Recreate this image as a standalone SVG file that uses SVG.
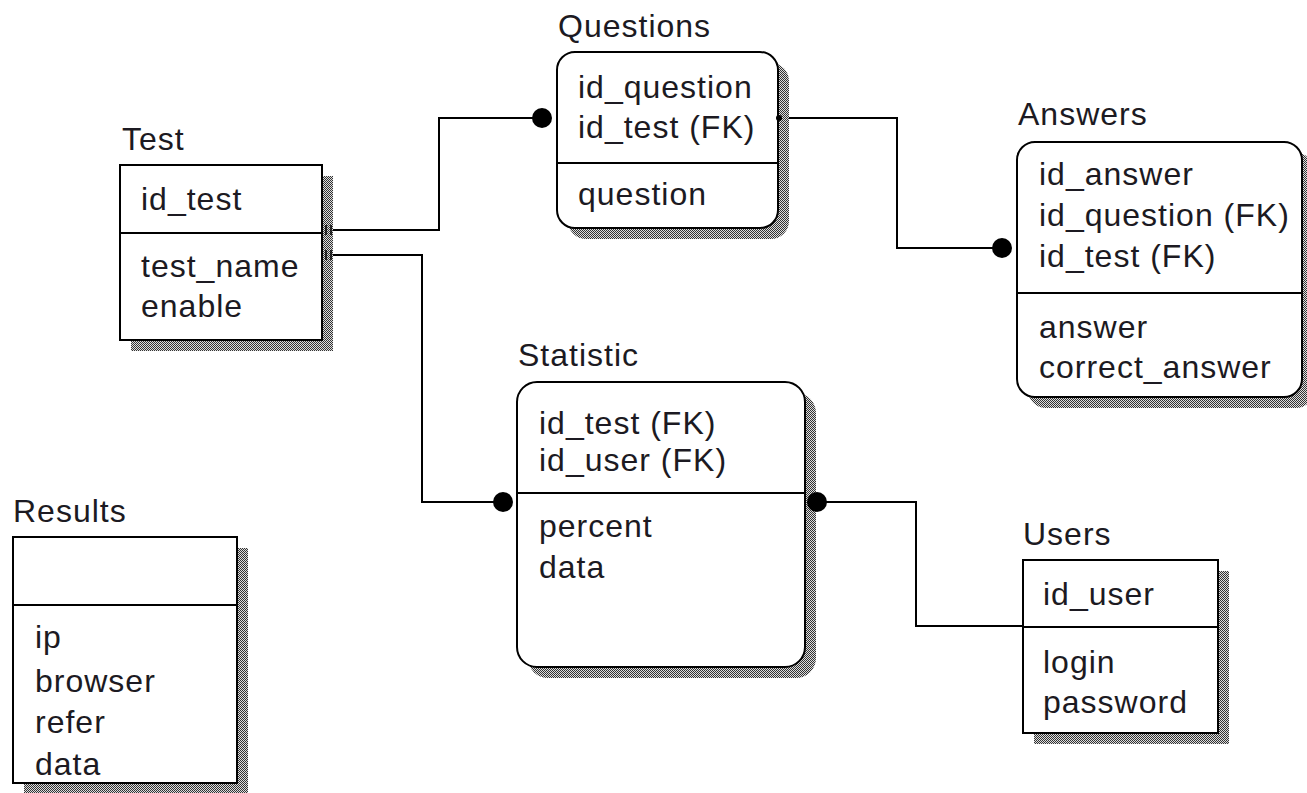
<svg xmlns="http://www.w3.org/2000/svg" width="1307" height="793" viewBox="0 0 1307 793">
<style>
text{font-family:"Liberation Sans",Arial,sans-serif;font-size:32px;letter-spacing:1px;fill:#1c1a22}
.box{fill:#fff;stroke:#000;stroke-width:2}
.div{stroke:#000;stroke-width:2}
.sh{fill:url(#dots)}
.conn{fill:none;stroke:#000;stroke-width:2}
.tick{stroke:#000;stroke-width:1.5}
</style>
<defs>
<pattern id="dots" width="2" height="2" patternUnits="userSpaceOnUse">
<rect width="2" height="2" fill="#ddd"/>
<rect width="1" height="1" fill="#333"/>
<rect x="1" y="1" width="1" height="1" fill="#333"/>
</pattern>
</defs>
<rect width="1307" height="793" fill="#fff"/>

<g id="connectors">
<polyline class="conn" points="322,230 439,230 439,118 542,118"/>
<polyline class="conn" points="322,255 422,255 422,502 503,502"/>
<polyline class="conn" points="778,118 897,118 897,248 1003,248"/>
<polyline class="conn" points="817,502 916,502 916,626 1023,626"/>
</g>

<g id="Test">
<rect class="sh" x="131" y="176" width="202" height="175"/>
<rect class="box" x="120" y="165" width="202" height="175"/>
<line class="div" x1="120" y1="233" x2="322" y2="233"/>
<text x="122" y="150">Test</text>
<text x="141" y="210">id_test</text>
<text x="141" y="277">test_name</text>
<text x="141" y="317">enable</text>
</g>

<g id="Questions">
<rect class="sh" x="568" y="63" width="221" height="176" rx="18"/>
<rect class="box" x="557" y="52" width="221" height="176" rx="18"/>
<line class="div" x1="557" y1="163" x2="778" y2="163"/>
<text x="558" y="37">Questions</text>
<text x="578" y="98">id_question</text>
<text x="578" y="138">id_test (FK)</text>
<text x="578" y="205">question</text>
</g>

<g id="Answers">
<rect class="sh" x="1028" y="153" width="286" height="255" rx="18"/>
<rect class="box" x="1017" y="142" width="285" height="255" rx="18"/>
<line class="div" x1="1017" y1="293" x2="1302" y2="293"/>
<text x="1018" y="125">Answers</text>
<text x="1039" y="185">id_answer</text>
<text x="1039" y="226">id_question (FK)</text>
<text x="1039" y="267">id_test (FK)</text>
<text x="1039" y="338">answer</text>
<text x="1039" y="378">correct_answer</text>
</g>

<g id="Statistic">
<rect class="sh" x="528" y="393" width="288" height="285" rx="20"/>
<rect class="box" x="517" y="382" width="288" height="285" rx="20"/>
<line class="div" x1="517" y1="493" x2="805" y2="493"/>
<text x="518" y="366">Statistic</text>
<text x="539" y="434">id_test (FK)</text>
<text x="539" y="471">id_user (FK)</text>
<text x="539" y="537">percent</text>
<text x="539" y="578">data</text>
</g>

<g id="Users">
<rect class="sh" x="1034" y="571" width="195" height="173"/>
<rect class="box" x="1023" y="560" width="195" height="173"/>
<line class="div" x1="1023" y1="627" x2="1218" y2="627"/>
<text x="1023" y="545">Users</text>
<text x="1043" y="605">id_user</text>
<text x="1043" y="673">login</text>
<text x="1043" y="713">password</text>
</g>

<g id="Results">
<rect class="sh" x="24" y="548" width="224" height="246"/>
<rect class="box" x="13" y="537" width="224" height="246"/>
<line class="div" x1="13" y1="605" x2="237" y2="605"/>
<text x="13" y="522">Results</text>
<text x="35" y="648">ip</text>
<text x="35" y="692">browser</text>
<text x="35" y="733">refer</text>
<text x="35" y="775">data</text>
</g>

<g id="endpoints">
<line class="tick" x1="326" y1="225" x2="326" y2="235"/>
<line class="tick" x1="331" y1="225" x2="331" y2="235"/>
<line class="tick" x1="326" y1="250" x2="326" y2="260"/>
<line class="tick" x1="331" y1="250" x2="331" y2="260"/>
<circle cx="542" cy="118" r="10" fill="#000"/>
<circle cx="503" cy="502" r="10" fill="#000"/>
<circle cx="1002" cy="248" r="10" fill="#000"/>
<circle cx="817" cy="502" r="10" fill="#000"/>
<circle cx="779" cy="118" r="3" fill="#000"/>
</g>
</svg>
